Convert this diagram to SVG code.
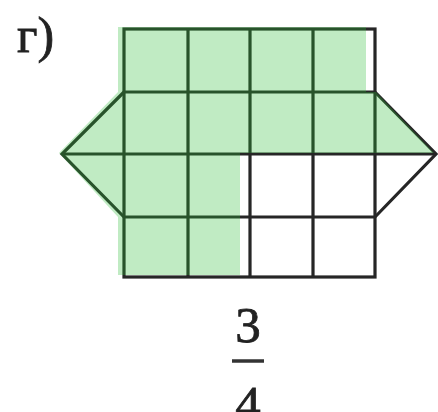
<svg xmlns="http://www.w3.org/2000/svg" width="438" height="412" viewBox="0 0 438 412">
<style>
.ln{stroke:#262626;stroke-width:3.2;fill:none;stroke-linejoin:miter}
.tx{font-family:"Liberation Serif","Times New Roman",serif;fill:#222;stroke:#222;stroke-width:0.8}
</style>
<rect width="438" height="412" fill="#fff"/>
<g id="label"><text class="tx" x="17" y="52" font-size="50">г)</text></g>
<g id="connectors">
<g id="grid" class="ln">
<rect x="124" y="29" width="251" height="248"/>
<line x1="188" y1="29" x2="188" y2="277"/>
<line x1="250" y1="29" x2="250" y2="277"/>
<line x1="313" y1="29" x2="313" y2="277"/>
<line x1="124" y1="92" x2="375" y2="92"/>
<line x1="62" y1="154" x2="436" y2="154"/>
<line x1="124" y1="217" x2="375" y2="217"/>
<polyline points="124,92 62,154 124,217"/>
<polyline points="375,92 436,154 375,217"/>
</g>
</g>
<g id="shading">
<polygon points="118,27 366,27 366,92 376,92 434,153 240,153 240,275 118,275 118,217 59,153 118,92" fill="rgb(48,188,55)" fill-opacity="0.3"/>
</g>
<g id="fraction">
<text class="tx" x="248" y="342" font-size="51" text-anchor="middle">3</text>
<line x1="232" y1="361" x2="264" y2="361" stroke="#333" stroke-width="3.5"/>
<text class="tx" x="248" y="421" font-size="51" text-anchor="middle">4</text>
</g>
</svg>
